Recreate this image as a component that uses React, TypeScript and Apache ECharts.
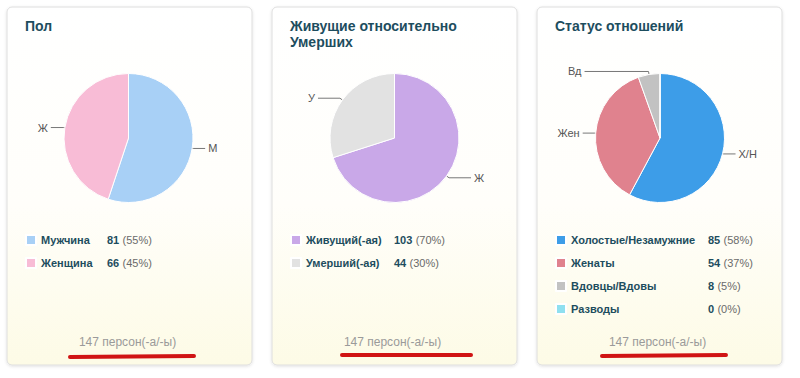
import React, { useEffect, useRef } from "react";
import * as echarts from "echarts";

// ---- Data ----
const titles = ["Пол", "Живущие относительно\nУмерших", "Статус отношений"];

const genderNames = ["Мужчина", "Женщина"];
const genderShort = ["М", "Ж"];
const genderValues = [81, 66];

const lifeNames = ["Живущий(-ая)", "Умерший(-ая)"];
const lifeShort = ["Ж", "У"];
const lifeValues = [103, 44];

const statusNames = ["Холостые/Незамужние", "Женаты", "Вдовцы/Вдовы", "Разводы"];
const statusShort = ["Х/Н", "Жен", "Вд", "Р"];
const statusValues = [85, 54, 8, 0];

const totalLabel = "147 персон(-а/-ы)";

// ---- Styles ----
const genderColors = ["#a8d0f6", "#f8bcd6"];
const lifeColors = ["#c9a8e8", "#e2e2e2"];
const statusColors = ["#3d9de8", "#e0828e", "#c2c2c2", "#8fe0f0"];

const genderLine2 = [12, 13];
const lifeLine2 = [22, 22];
const statusLine2 = [12, 12, 64, 10];
const statusLine1 = [1, 1, 3, 1];

const panelX = [7, 272, 537];
const panelW = 245;
const titleColor = "#1d4d5e";
const FONT = "'Liberation Sans', Arial, sans-serif";

type Group = { names: string[]; short: string[]; values: number[]; colors: string[]; l1: number[]; l2: number[]; nameW: number };

const groups: Group[] = [
  { names: genderNames, short: genderShort, values: genderValues, colors: genderColors, l1: [1, 1], l2: genderLine2, nameW: 66 },
  { names: lifeNames, short: lifeShort, values: lifeValues, colors: lifeColors, l1: [3, 3], l2: lifeLine2, nameW: 88 },
  { names: statusNames, short: statusShort, values: statusValues, colors: statusColors, l1: statusLine1, l2: statusLine2, nameW: 137 },
];

export default function App() {
  const ref = useRef<HTMLDivElement>(null);
  useEffect(() => {
    document.body.style.margin = "0";
    if (!ref.current) return;
    const chart = echarts.init(ref.current, null, { renderer: "svg" });

    const lookup: Record<string, { v: number; p: number }> = {};
    groups.forEach((g) => {
      const tot = g.values.reduce((a, b) => a + b, 0);
      g.names.forEach((n, i) => {
        lookup[n] = { v: g.values[i], p: Math.round((g.values[i] / tot) * 100) };
      });
    });

    const centersX = [128.5, 394.5, 660];
    const redLines = [
      [70, 357, 194, 356],
      [342, 355, 471, 355],
      [602, 356, 726, 355],
    ];

    const graphic: any[] = [];
    panelX.forEach((x, i) => {
      graphic.push({
        type: "rect",
        shape: { x: x, y: 7, width: panelW, height: 358, r: 5 },
        style: {
          fill: {
            type: "linear", x: 0, y: 0, x2: 0, y2: 1,
            colorStops: [
              { offset: 0, color: "#ffffff" },
              { offset: 0.55, color: "#fffefa" },
              { offset: 1, color: "#fdfbe6" },
            ],
          },
          stroke: "#dedede",
          lineWidth: 1,
          shadowBlur: 3,
          shadowColor: "rgba(0,0,0,0.12)",
          shadowOffsetY: 1,
        },
        z: -10,
      });
      graphic.push({
        type: "text",
        x: x + panelW / 2 - 2,
        y: 342,
        style: {
          text: totalLabel,
          fill: "#9a9a9a",
          font: `12px ${FONT}`,
          textAlign: "center",
          textVerticalAlign: "middle",
        },
      });
      const r = redLines[i];
      graphic.push({
        type: "line",
        shape: { x1: r[0], y1: r[1], x2: r[2], y2: r[3] },
        style: { stroke: "#d01414", lineWidth: 4, lineCap: "round" },
        z: 10,
      });
    });

    const option: any = {
      animation: false,
      title: titles.map((t, i) => ({
        text: t,
        left: panelX[i] + 18,
        top: 18,
        padding: 0,
        textStyle: { fontSize: 14, fontWeight: "bold", color: titleColor, lineHeight: 16, fontFamily: FONT },
      })),
      legend: groups.map((g, i) => ({
        data: g.names,
        orient: "vertical",
        left: panelX[i] + 18,
        top: 234,
        padding: 0,
        itemWidth: 10,
        itemHeight: 10,
        itemGap: 11,
        icon: "rect",
        selectedMode: false,
        formatter: (name: string) => `{n|${name}}{v|${lookup[name].v}} {p|(${lookup[name].p}%)}`,
        textStyle: {
          fontFamily: FONT,
          lineHeight: 10,
          rich: {
            n: { fontSize: 11, fontWeight: "bold", color: titleColor, width: g.nameW, fontFamily: FONT },
            v: { fontSize: 11, fontWeight: "bold", color: titleColor, fontFamily: FONT },
            p: { fontSize: 11, color: "#6a6a6a", fontFamily: FONT },
          },
        },
      })),
      graphic,
      series: groups.map((g, i) => ({
        type: "pie",
        center: [centersX[i], 138],
        radius: 64.5,
        startAngle: 90,
        clockwise: true,
        avoidLabelOverlap: false,
        silent: true,
        itemStyle: { borderColor: "#ffffff", borderWidth: 1 },
        label: {
          show: true,
          position: "outside",
          color: "#555555",
          fontSize: 11,
          fontFamily: FONT,
          distanceToLabelLine: 3,
          formatter: (p: any) => g.short[p.dataIndex],
        },
        labelLine: { show: true, smooth: false, lineStyle: { color: "#777777", width: 1 } },
        data: g.names.map((n, j) => ({
          name: n,
          value: g.values[j],
          itemStyle: { color: g.colors[j] },
          label: { show: g.values[j] > 0 },
          labelLine: { show: g.values[j] > 0, length: g.l1[j], length2: g.l2[j] },
        })),
      })),
    };
    chart.setOption(option);
    return () => chart.dispose();
  }, []);
  return <div ref={ref} style={{ width: 800, height: 378 }} />;
}
